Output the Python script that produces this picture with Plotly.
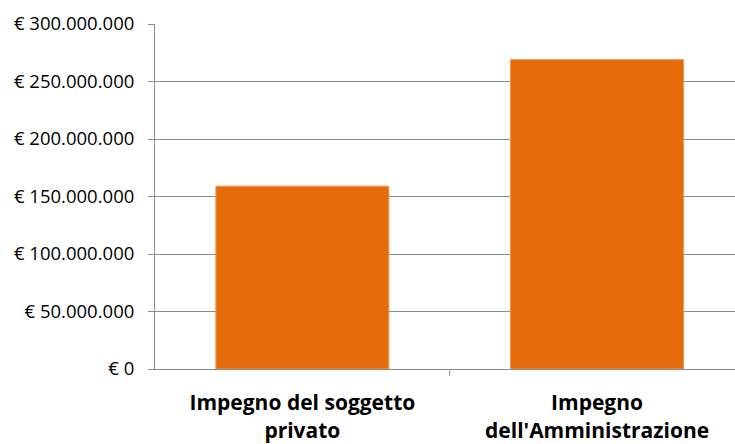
import plotly.graph_objects as go

categories = ["Impegno del soggetto<br>privato", "Impegno<br>dell'Amministrazione"]
values = [159000000, 269000000]
y_ticks = [0, 50000000, 100000000, 150000000, 200000000, 250000000, 300000000]
y_tick_labels = ["€ " + f"{v:,}".replace(",", ".") for v in y_ticks]

fig = go.Figure(go.Bar(
    x=[0, 1], y=values, width=0.587,
    marker=dict(color="#E46C0A", line=dict(color="#F0955A", width=1)),
))
fig.update_layout(
    width=735, height=444,
    margin=dict(l=155, r=0, t=24, b=75),
    paper_bgcolor="white", plot_bgcolor="white",
    showlegend=False,
    font=dict(family="Open Sans", color="black"),
)
fig.update_xaxes(
    range=[-0.5, 1.468], automargin=False,
    tickmode="array", tickvals=[0, 1], ticktext=["<b>" + c.replace("<br>", "</b><br><b>") + "</b>" for c in categories],
    tickfont=dict(size=21, family="Open Sans", color="black"),
    showline=True, linecolor="#8c8c8c", linewidth=1,
    ticks="", showgrid=False, zeroline=False, ticklabelstandoff=15,
)
fig.update_yaxes(
    range=[0, 300000000], automargin=False,
    tickmode="array", tickvals=y_ticks, ticktext=y_tick_labels,
    tickfont=dict(size=18.5, family="Open Sans", color="black"),
    showline=True, linecolor="#8c8c8c", linewidth=1,
    ticks="outside", ticklen=6, tickcolor="#8c8c8c",
    showgrid=True, gridcolor="#8c8c8c", gridwidth=1,
    zeroline=False, ticklabelstandoff=10,
)
# boundary tick between categories
fig.add_shape(type="line", xref="x", yref="paper", x0=0.5, x1=0.5, y0=0, y1=-0.02,
              line=dict(color="#8c8c8c", width=1))
fig.write_html("out.html")
